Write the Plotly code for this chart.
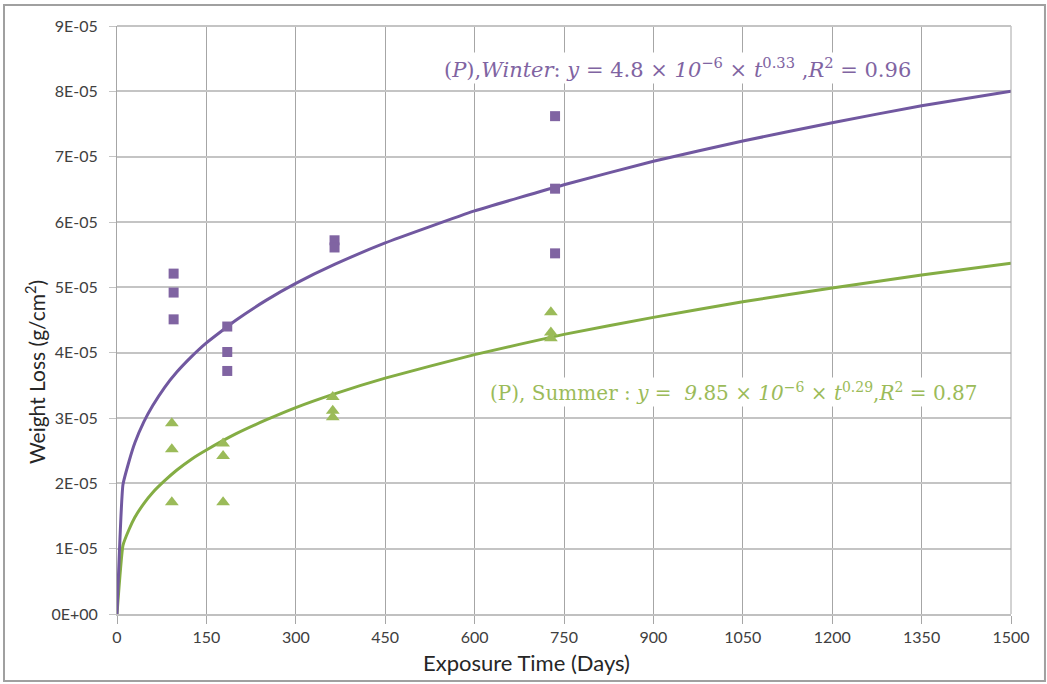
import plotly.graph_objects as go

# Measured points
winter_t = [95, 95, 95, 185, 185, 185, 365, 365, 735, 735, 735]
winter_w = [5.21e-5, 4.92e-5, 4.51e-5, 4.40e-5, 4.01e-5, 3.72e-5, 5.72e-5, 5.61e-5, 7.62e-5, 6.51e-5, 5.52e-5]
summer_t = [92, 92, 92, 178, 178, 178, 362, 362, 362, 728, 728, 728]
summer_w = [2.92e-5, 2.52e-5, 1.71e-5, 2.61e-5, 2.42e-5, 1.71e-5, 3.32e-5, 3.11e-5, 3.01e-5, 4.62e-5, 4.31e-5, 4.22e-5]

# Fitted curves
fit_t = [0, 10, 20, 30, 45, 60, 80, 100, 125, 150, 200, 250, 300, 365, 450, 600, 750, 900, 1050, 1200, 1350, 1500]
winter_fit = [0, 1.98e-5, 2.33e-5, 2.62e-5, 2.94e-5, 3.19e-5, 3.47e-5, 3.70e-5, 3.94e-5, 4.15e-5, 4.50e-5, 4.80e-5,
              5.06e-5, 5.35e-5, 5.68e-5, 6.17e-5, 6.57e-5, 6.93e-5, 7.24e-5, 7.52e-5, 7.78e-5, 8.00e-5]
summer_fit = [0, 1.05e-5, 1.29e-5, 1.48e-5, 1.69e-5, 1.86e-5, 2.04e-5, 2.20e-5, 2.37e-5, 2.51e-5, 2.76e-5, 2.97e-5,
              3.16e-5, 3.37e-5, 3.61e-5, 3.97e-5, 4.28e-5, 4.54e-5, 4.78e-5, 4.99e-5, 5.19e-5, 5.37e-5]

x_ticks = [0, 150, 300, 450, 600, 750, 900, 1050, 1200, 1350, 1500]
y_ticks = [0, 1e-5, 2e-5, 3e-5, 4e-5, 5e-5, 6e-5, 7e-5, 8e-5, 9e-5]
y_tick_text = ["0E+00", "1E-05", "2E-05", "3E-05", "4E-05", "5E-05", "6E-05", "7E-05", "8E-05", "9E-05"]

PURPLE_M = "#8064A2"
PURPLE_L = "#7158A0"
GREEN_M = "#9BBB59"
GREEN_L = "#84AD44"

fig = go.Figure()
fig.add_trace(go.Scatter(x=fit_t, y=summer_fit, mode="lines",
                         line=dict(color=GREEN_L, width=3, shape="spline", smoothing=0.4), showlegend=False))
fig.add_trace(go.Scatter(x=fit_t, y=winter_fit, mode="lines",
                         line=dict(color=PURPLE_L, width=3, shape="spline", smoothing=0.4), showlegend=False))
fig.add_trace(go.Scatter(x=winter_t, y=winter_w, mode="markers",
                         marker=dict(symbol="square", size=10, color=PURPLE_M), showlegend=False))
fig.add_trace(go.Scatter(x=summer_t, y=summer_w, mode="markers",
                         marker=dict(symbol="triangle-up", size=12, color=GREEN_M), showlegend=False))

tick_font = dict(family="Lato, Open Sans, sans-serif", size=16, color="#404040")
serif = "DejaVu Serif, Liberation Serif, serif"

fig.update_layout(
    width=1047, height=684,
    margin=dict(l=117, r=36, t=26, b=70, autoexpand=False),
    paper_bgcolor="white", plot_bgcolor="white",
    font=dict(family="Lato, Open Sans, sans-serif", color="#404040", size=16),
    xaxis=dict(range=[0, 1500], tickvals=x_ticks, showgrid=True, gridcolor="#A6A6A6", gridwidth=1,
               zeroline=False, showline=True, linecolor="#C0C0C0", linewidth=2,
               ticks="outside", ticklen=8, tickcolor="#A6A6A6", tickfont=tick_font,
               automargin=False),
    yaxis=dict(range=[0, 9e-5], tickvals=y_ticks, ticktext=y_tick_text, showgrid=True, gridcolor="#C4C4C4",
               gridwidth=2, zeroline=False, showline=True, linecolor="#A6A6A6", linewidth=1,
               ticks="outside", ticklen=7, tickcolor="#C4C4C4", tickfont=tick_font,
               ticklabelstandoff=8, automargin=False),
    shapes=[dict(type="rect", xref="paper", yref="paper", x0=-0.1264, x1=1.038, y0=-0.1139, y1=1.0357,
                 line=dict(color="#A0A0A0", width=2), fillcolor="rgba(0,0,0,0)", layer="below"),
            dict(type="line", xref="paper", yref="paper", x0=1, x1=1, y0=0, y1=1,
                 line=dict(color="#A6A6A6", width=1)),
            dict(type="line", xref="paper", yref="paper", x0=0, x1=1, y0=1, y1=1,
                 line=dict(color="#C4C4C4", width=2))],
    annotations=[
        dict(x=0.4586, y=-0.0833, xref="paper", yref="paper", xanchor="center", yanchor="middle", showarrow=False,
             text="Exposure Time (Days)", font=dict(family="Lato, Open Sans, sans-serif", size=22, color="#262626")),
        dict(x=-0.0917, y=0.4116, xref="paper", yref="paper", xanchor="center", yanchor="middle", showarrow=False,
             textangle=-90, text="Weight Loss (g/cm<sup>2</sup>)",
             font=dict(family="Lato, Open Sans, sans-serif", size=21, color="#262626")),
        dict(x=0.6264, y=0.9286, xref="paper", yref="paper", xanchor="center", yanchor="middle", showarrow=False,
             bgcolor="white",
             text="(<i>P</i>),<i>Winter</i>: <i>y</i> = 4.8 × <i>10</i><sup>−6</sup> × <i>t</i><sup>0.33</sup> ,<i>R</i><sup>2</sup> = 0.96",
             font=dict(family=serif, size=21, color=PURPLE_M)),
        dict(x=0.690, y=0.3776, xref="paper", yref="paper", xanchor="center", yanchor="middle", showarrow=False,
             bgcolor="white",
             text="(P), Summer : <i>y</i> =  <i>9</i>.85 × <i>10</i><sup>−6</sup> × <i>t</i><sup>0.29</sup>,<i>R</i><sup>2</sup> = 0.87",
             font=dict(family=serif, size=20, color=GREEN_M)),
    ],
)

fig.write_html("out.html", config={"displayModeBar": False},
               post_script="document.body.style.margin='0';")
